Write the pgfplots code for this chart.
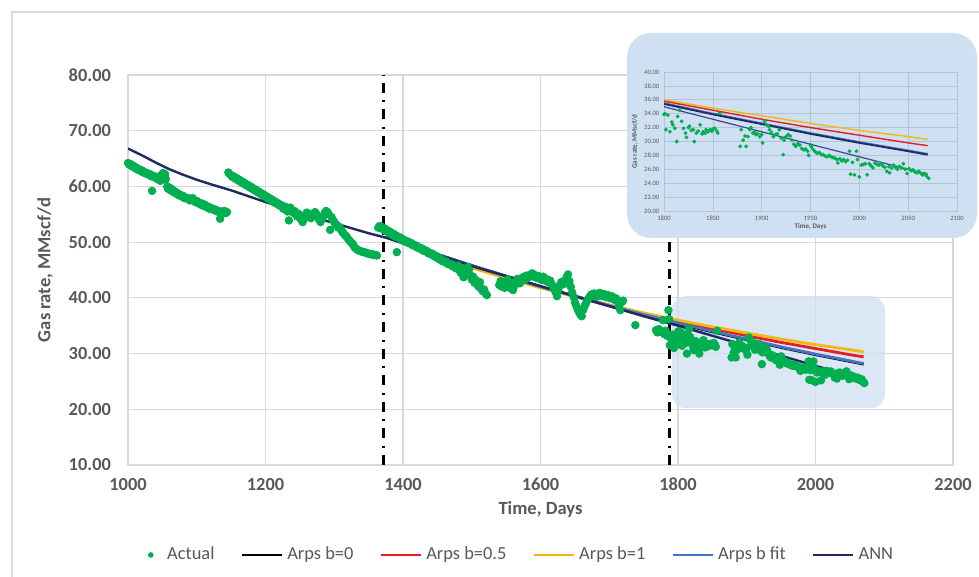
\documentclass[border=0pt]{standalone}
\usepackage{pgfplots}
\pgfplotsset{compat=1.18}
\usepackage{pgfplotstable}
\usepackage{fontspec}
\setmainfont{Carlito}
\definecolor{actgreen}{RGB}{0,176,80}
\definecolor{anncol}{RGB}{31,42,94}
\definecolor{anninset}{RGB}{62,70,140}
\definecolor{bfitcol}{RGB}{68,114,196}
\definecolor{redcol}{RGB}{230,30,35}
\definecolor{yelcol}{RGB}{242,185,15}
\definecolor{boxblue}{RGB}{207,224,242}
\definecolor{txtgray}{RGB}{89,89,89}
\definecolor{gridgray}{RGB}{217,217,217}
\definecolor{insetgrid}{RGB}{180,196,216}
\pgfplotsset{
  lineleg/.style={legend image code/.code={\draw[line width=1.4pt,##1] (0pt,0pt) -- (20pt,0pt);}},
  actleg/.style={legend image code/.code={\path (0pt,0pt) (14pt,0pt); \fill[actgreen,draw=none] (8pt,0pt) circle (1.4pt);}},
}

\pgfplotstableread{
x y
1000 64.2
1002 63.9
1004 64.0
1006 63.6
1008 63.7
1010 63.3
1012 63.4
1014 63.0
1016 63.1
1018 62.8
1020 62.9
1022 62.5
1024 62.6
1026 62.3
1028 62.4
1030 62.1
1032 62.2
1034 61.8
1035 59.2
1037 61.9
1039 61.6
1041 61.7
1043 61.3
1045 61.5
1047 61.0
1048 62.0
1050 61.6
1051 62.4
1053 61.8
1054 62.2
1055 61.3
1057 60.0
1058 59.6
1060 59.8
1062 59.3
1064 59.5
1066 59.0
1068 59.1
1070 58.7
1072 58.8
1074 58.4
1076 58.5
1078 58.2
1080 58.3
1082 57.9
1084 58.0
1086 57.8
1088 57.9
1090 57.5
1092 57.7
1094 57.9
1096 57.4
1098 57.2
1100 57.4
1102 57.0
1104 57.1
1106 56.7
1108 56.9
1110 56.5
1112 56.7
1114 56.3
1116 56.4
1118 56.0
1120 56.2
1122 56.0
1124 55.8
1126 55.9
1128 55.6
1130 55.7
1132 55.4
1134 54.2
1136 55.5
1138 55.3
1140 55.6
1142 55.2
1144 55.4
1146 62.5
1148 62.2
1150 62.0
1152 61.7
1154 61.8
1156 61.4
1158 61.5
1160 61.1
1162 61.2
1164 60.8
1166 60.9
1168 60.5
1170 60.6
1172 60.2
1174 60.3
1176 59.9
1178 60.0
1180 59.6
1182 59.7
1184 59.3
1186 59.4
1188 59.0
1190 59.1
1192 58.7
1194 58.8
1196 58.4
1198 58.5
1200 58.1
1202 58.2
1204 57.8
1206 57.9
1208 57.5
1210 57.6
1212 57.2
1214 57.3
1216 56.9
1218 57.0
1220 56.6
1222 56.7
1224 56.3
1226 56.0
1228 56.4
1230 55.8
1232 55.5
1234 53.9
1236 56.2
1238 55.7
1240 55.3
1242 55.6
1244 55.0
1246 54.6
1248 55.1
1250 54.5
1252 54.0
1254 53.6
1256 54.2
1258 54.8
1260 55.3
1262 55.0
1264 54.6
1266 54.3
1268 54.8
1270 55.2
1272 55.4
1274 55.0
1276 54.5
1278 54.0
1280 53.6
1282 54.1
1284 54.6
1286 55.2
1288 55.6
1290 55.4
1292 55.0
1294 52.2
1296 54.5
1298 54.0
1300 53.6
1302 53.2
1304 53.0
1306 52.6
1308 52.7
1310 52.2
1312 51.8
1314 51.5
1316 51.2
1318 51.0
1320 50.6
1322 50.3
1324 50.0
1326 49.8
1328 49.4
1330 49.0
1332 48.8
1334 48.6
1336 48.5
1338 48.4
1340 48.3
1342 48.2
1344 48.2
1346 48.1
1348 48.0
1350 47.9
1352 47.9
1354 47.8
1356 47.8
1358 47.7
1360 47.7
1362 47.6
1364 52.6
1366 52.9
1368 52.5
1370 52.7
1372 52.2
1374 52.4
1376 51.9
1378 52.1
1380 51.6
1382 51.8
1384 51.3
1386 51.5
1388 51.0
1390 51.2
1391 48.2
1393 50.8
1395 50.9
1397 50.5
1399 50.6
1401 50.2
1403 50.3
1405 50.0
1407 50.1
1409 49.8
1411 49.9
1413 49.5
1415 49.6
1417 49.3
1419 49.4
1421 49.0
1423 49.1
1425 48.8
1427 48.9
1429 48.5
1431 48.6
1433 48.3
1435 48.4
1437 48.0
1439 48.1
1441 47.8
1443 47.9
1445 47.5
1447 47.6
1449 47.2
1451 47.3
1453 46.9
1455 47.0
1457 46.6
1459 46.7
1461 46.4
1463 46.5
1465 46.1
1467 46.2
1469 45.9
1471 46.0
1473 45.6
1475 45.8
1477 45.3
1479 45.5
1480 45.8
1482 45.0
1484 44.5
1486 45.2
1488 43.7
1490 44.2
1492 44.8
1494 45.5
1496 45.0
1498 44.0
1500 43.3
1502 43.8
1504 42.7
1506 43.2
1508 42.4
1510 42.0
1512 42.8
1514 41.6
1516 41.2
1518 41.5
1520 40.8
1522 40.5
1540 42.3
1542 43.0
1544 42.0
1546 42.6
1548 41.8
1550 42.9
1552 43.3
1554 42.5
1556 42.7
1558 41.6
1560 41.4
1562 42.2
1564 42.9
1566 43.4
1568 43.0
1570 42.6
1572 43.5
1574 43.2
1576 43.8
1578 43.3
1580 44.0
1582 43.6
1584 43.9
1586 44.2
1588 44.4
1590 43.8
1592 44.1
1594 43.7
1596 43.5
1598 43.9
1600 43.6
1602 43.2
1604 43.8
1606 43.5
1608 43.0
1610 43.3
1612 42.8
1614 43.1
1616 42.5
1618 42.0
1620 41.6
1622 41.0
1624 40.3
1626 41.4
1628 42.3
1630 42.8
1632 42.4
1634 43.0
1636 42.6
1638 43.7
1640 44.2
1642 43.0
1644 42.0
1646 41.0
1648 40.2
1650 39.2
1652 38.6
1654 38.0
1656 37.4
1658 37.0
1660 36.7
1662 37.8
1664 38.5
1666 39.0
1668 39.6
1670 39.9
1672 40.3
1674 40.6
1676 40.4
1678 40.8
1680 40.5
1682 40.2
1684 40.6
1686 40.9
1688 40.5
1690 40.3
1692 40.7
1694 40.4
1696 40.1
1698 40.5
1700 40.2
1702 39.9
1704 40.3
1706 40.0
1708 39.6
1710 39.9
1712 39.5
1714 38.6
1716 37.8
1718 39.2
1720 39.5
1738 35.1
1768 34.2
1770 33.8
1772 34.4
1774 33.9
1776 34.0
1778 36.0
1780 33.5
1782 34.1
1784 33.2
1786 37.8
1787 36.2
1788 31.5
1790 32.6
1792 33.4
1794 31.0
1796 32.2
1798 33.0
1800 33.9
1801 34.0
1802 31.7
1804 33.8
1806 31.4
1808 32.8
1809 32.4
1811 31.9
1813 30.0
1814 33.6
1816 34.5
1818 32.9
1820 31.9
1822 31.2
1823 30.6
1825 32.0
1826 32.2
1828 31.6
1830 31.7
1831 30.0
1833 31.2
1835 31.5
1837 32.4
1839 31.1
1840 31.4
1842 31.2
1843 31.7
1845 31.4
1847 31.7
1849 31.5
1850 31.8
1852 31.9
1854 31.5
1855 31.2
1857 34.1
1878 29.3
1879 31.7
1881 30.2
1883 30.8
1884 29.3
1886 30.7
1888 31.7
1889 32.0
1891 31.2
1893 31.4
1894 31.0
1896 31.1
1898 30.7
1900 31.0
1901 29.8
1903 32.9
1905 32.4
1907 32.2
1908 31.7
1910 31.3
1912 30.7
1914 31.0
1916 31.1
1918 31.7
1920 30.5
1922 28.1
1923 30.2
1925 30.7
1927 31.0
1929 30.8
1931 30.2
1933 29.6
1935 29.3
1937 29.7
1939 29.5
1941 29.0
1943 28.8
1945 28.9
1947 28.6
1948 28.0
1950 29.5
1951 29.2
1953 28.8
1955 28.5
1957 28.3
1959 28.4
1961 28.1
1963 28.1
1965 27.9
1967 27.8
1969 28.0
1971 27.8
1973 27.7
1975 27.6
1977 27.4
1978 26.9
1980 27.5
1982 27.2
1984 27.4
1986 27.1
1988 27.3
1990 28.6
1991 25.3
1993 27.0
1995 25.2
1997 28.6
1998 27.4
2000 24.9
2002 26.6
2004 26.7
2006 26.8
2008 25.2
2010 26.8
2012 26.5
2014 26.2
2016 26.9
2018 26.7
2020 26.6
2022 26.8
2024 26.5
2026 26.3
2028 25.7
2030 26.4
2031 25.5
2033 26.2
2035 26.6
2037 26.3
2039 26.0
2041 26.4
2043 26.2
2045 26.8
2047 26.0
2049 25.4
2051 26.1
2053 25.8
2055 25.9
2057 25.6
2059 25.5
2061 25.7
2063 25.4
2065 25.2
2067 25.4
2069 25.0
2071 24.7
}\actual

\pgfplotstableread{
x y
1375 51.0
1450 47.8
1500 45.8
1550 43.9
1600 42.0
1650 40.3
1700 38.6
1750 37.0
1800 35.4
1850 33.9
1900 32.5
1950 31.1
2000 29.8
2050 28.6
2070 28.1
}\arpszero

\pgfplotstableread{
x y
1375 51.0
1450 47.8
1500 45.8
1550 43.9
1600 42.0
1650 40.3
1700 38.6
1750 37.0
1800 35.5
1850 34.0
1900 32.6
1950 31.2
2000 29.9
2050 28.7
2070 28.2
}\arpsfit

\pgfplotstableread{
x y
1375 51.0
1450 47.7
1500 45.7
1550 43.8
1600 42.0
1650 40.3
1700 38.7
1750 37.2
1800 35.8
1850 34.5
1900 33.2
1950 32.0
2000 30.9
2050 29.8
2070 29.4
}\arpshalf

\pgfplotstableread{
x y
1375 51.0
1450 47.5
1500 45.4
1550 43.5
1600 41.8
1650 40.2
1700 38.7
1750 37.3
1800 36.0
1850 34.8
1900 33.7
1950 32.6
2000 31.6
2050 30.7
2070 30.3
}\arpsone

\pgfplotstableread{
x y
1000 66.8
1020 65.6
1040 64.3
1060 63.1
1080 62.1
1100 61.2
1120 60.4
1150 59.3
1200 57.2
1250 55.2
1300 53.4
1350 51.6
1375 50.8
1400 49.8
1450 47.8
1500 45.7
1550 43.9
1600 42.1
1650 40.3
1700 38.5
1750 36.7
1800 35.0
1850 33.2
1900 31.4
1950 29.6
2000 27.8
2050 26.0
2070 25.3
}\ann

\begin{document}
\begin{tikzpicture}
\path[use as bounding box] (0,0) rectangle (489.5pt,288.5pt);
\fill[white] (0,0) rectangle (489.5pt,288.5pt);
\draw[gridgray, line width=0.6pt] (6pt,-5pt) -- (6pt,282.5pt) -- (495pt,282.5pt);
\begin{axis}[
  at={(64pt,56pt)}, anchor=south west, scale only axis,
  width=412.5pt, height=195pt,
  xmin=1000, xmax=2200, ymin=10, ymax=80,
  xtick={1000,1200,1400,1600,1800,2000,2200},
  xticklabels={1000,1200,1400,1600,1800,2000,2200},
  ytick={10,20,30,40,50,60,70,80},
  yticklabels={10.00,20.00,30.00,40.00,50.00,60.00,70.00,80.00},
  grid=major, major grid style={gridgray, line width=0.6pt},
  axis line style={gridgray, line width=0.6pt},
  major tick length=0pt,
  tick label style={font=\fontsize{9.2}{10}\selectfont\bfseries, text=txtgray},
  yticklabel style={xshift=-5pt},
  xticklabel style={yshift=-3pt},
  xlabel={Time, Days}, ylabel={Gas rate, MMscf/d},
  label style={font=\fontsize{9.3}{11}\selectfont\bfseries, text=txtgray},
  xlabel style={at={(axis description cs:0.5,-0.115)}, anchor=center},
  ylabel style={at={(axis description cs:-0.1006,0.5)}, anchor=center},
  legend columns=6,
  legend style={draw=none, fill=none, at={(0.47,-0.2308)}, anchor=center,
    font=\fontsize{9.2}{10}\selectfont, text=txtgray,
    /tikz/every even column/.append style={column sep=11pt}},
  legend cell align=left,
]
\fill[boxblue, fill opacity=0.75, rounded corners=7pt] (axis cs:1791,20.2) rectangle (axis cs:2101,40.3);
\addlegendimage{actleg}
\addlegendentry{Actual}
\addplot[black, line width=1.5pt, dash pattern=on 5pt off 3.5pt on 1pt off 3.8pt, forget plot] coordinates {(1372,10) (1372,80)};
\addplot[black, line width=1.5pt, dash pattern=on 5pt off 3.5pt on 1pt off 3.8pt, forget plot] coordinates {(1787,10) (1787,80)};
\addplot[black, line width=1.4pt, lineleg] table[x=x,y=y] {\arpszero};
\addlegendentry{Arps b=0}
\addplot[redcol, line width=1.4pt, lineleg] table[x=x,y=y] {\arpshalf};
\addlegendentry{Arps b=0.5}
\addplot[yelcol, line width=1.4pt, lineleg] table[x=x,y=y] {\arpsone};
\addlegendentry{Arps b=1}
\addplot[bfitcol, line width=1.4pt, lineleg] table[x=x,y=y] {\arpsfit};
\addlegendentry{Arps b fit}
\addplot[anncol, line width=1.2pt, lineleg] table[x=x,y=y] {\ann};
\addlegendentry{ANN}
\addplot[only marks, mark=*, mark size=1.9pt, mark options={draw=actgreen, fill=actgreen}, forget plot] table[x=x,y=y] {\actual};
\end{axis}
\fill[boxblue, rounded corners=12pt] (313.5pt,169.5pt) rectangle (488.5pt,272pt);
\begin{axis}[
  at={(332pt,183pt)}, anchor=south west, scale only axis,
  width=146.5pt, height=69.5pt,
  xmin=1800, xmax=2100, ymin=20, ymax=40,
  xtick={1800,1850,1900,1950,2000,2050,2100},
  xticklabels={1800,1850,1900,1950,2000,2050,2100},
  ytick={20,22,24,26,28,30,32,34,36,38,40},
  yticklabels={20.00,22.00,24.00,26.00,28.00,30.00,32.00,34.00,36.00,38.00,40.00},
  grid=major, major grid style={insetgrid, line width=0.35pt},
  axis line style={insetgrid, line width=0.35pt},
  major tick length=0pt,
  tick label style={font=\fontsize{3.3}{4}\selectfont, text=txtgray, inner sep=1pt},
  yticklabel style={xshift=-1.2pt},
  xticklabel style={yshift=-1.2pt},
  xlabel={Time, Days}, ylabel={Gas rate, MMscf/d},
  label style={font=\fontsize{3.5}{4}\selectfont\bfseries, text=txtgray},
  xlabel style={at={(axis description cs:0.5,-0.115)}, anchor=center},
  ylabel style={at={(axis description cs:-0.099,0.5)}, anchor=center},
]
\addplot[yelcol, line width=0.7pt] table[x=x,y=y] {\arpsone};
\addplot[redcol, line width=0.7pt] table[x=x,y=y] {\arpshalf};
\addplot[bfitcol, line width=1.0pt] table[x=x,y=y] {\arpsfit};
\addplot[anncol, line width=0.9pt] table[x=x,y=y] {\arpszero};
\addplot[anninset, line width=0.6pt] table[x=x,y=y] {\ann};
\addplot[only marks, mark=*, mark size=0.75pt, mark options={draw=actgreen, fill=actgreen}] table[x=x,y=y] {\actual};
\end{axis}
\end{tikzpicture}
\end{document}
